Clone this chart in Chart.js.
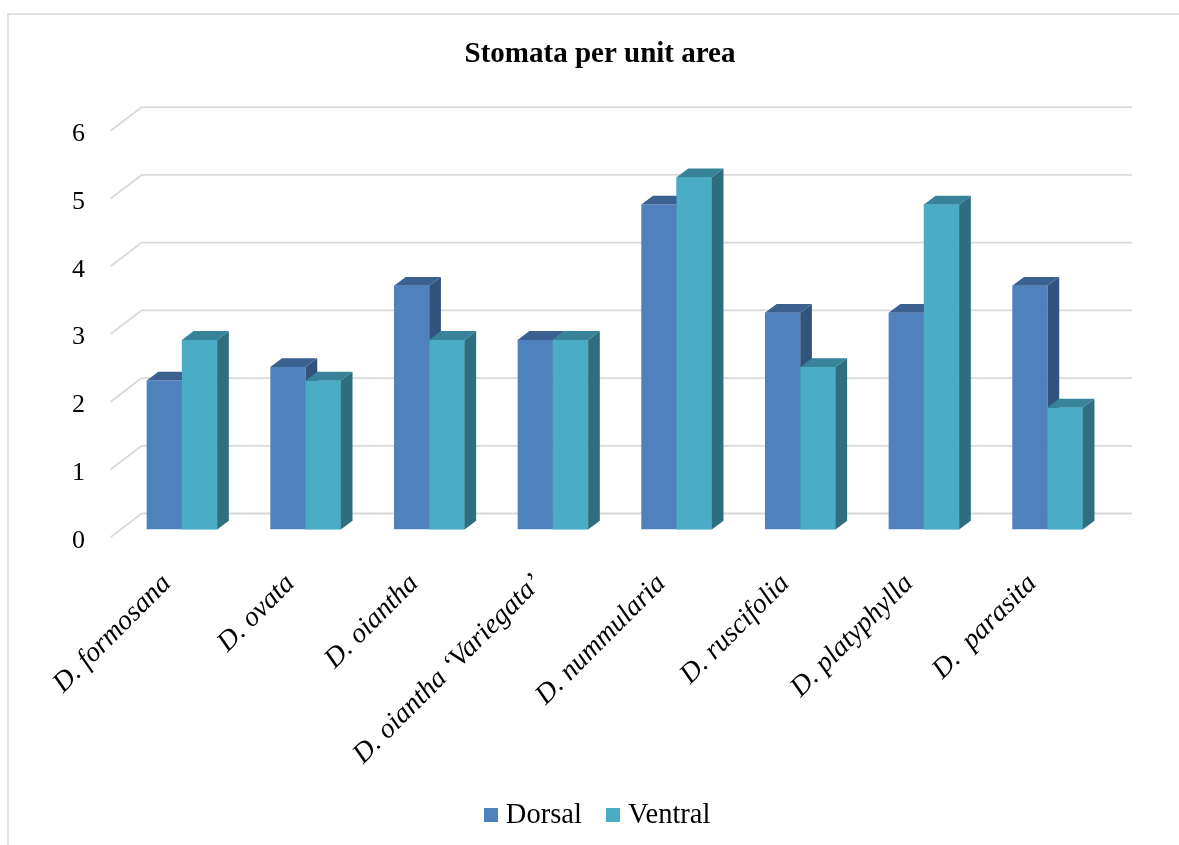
<!DOCTYPE html>
<html>
<head>
<meta charset="utf-8">
<title>Stomata per unit area</title>
<script src="https://cdn.jsdelivr.net/npm/chart.js@4.4.1/dist/chart.umd.min.js"></script>
<style>
  html, body { margin: 0; padding: 0; background: #fff; overflow: hidden; }
  canvas { display: block; }
</style>
</head>
<body>
<canvas id="chart" width="1179" height="845"></canvas>
<script>
// Species on the category axis
const categories = [
  'D. formosana',
  'D. ovata',
  'D. oiantha',
  'D. oiantha \u2018Variegata\u2019',
  'D. nummularia',
  'D. ruscifolia',
  'D. platyphylla',
  'D.  parasita'
];

// Stomata counts per unit area, leaf upper and lower surface
const dorsal  = [2.2, 2.4, 3.6, 2.8, 4.8, 3.2, 3.2, 3.6];
const ventral = [2.8, 2.2, 2.8, 2.8, 5.2, 2.4, 4.8, 1.8];

// Value axis ticks
const yTicks = [0, 1, 2, 3, 4, 5, 6];

const seriesNames = ['Dorsal', 'Ventral'];

const SERIF = "'Liberation Serif', 'Times New Roman', serif";

// Pseudo-3D offsets (pixels): bar depth, back wall and front floor edge
const DEPTH = { dx: 11.7, dy: 8.8 };
const WALL = { dx: 21.5, dy: 16, extra: 22.7 };
const FLOOR = { dx: 9.4, dy: 7.6 };

const palette = {
  Dorsal:  { front: '#4F81BD', top: '#3B6190', side: '#32537D' },
  Ventral: { front: '#4BACC6', top: '#37849A', side: '#2F6E7E' }
};

// Square legend swatch
function swatch(color) {
  const c = document.createElement('canvas');
  c.width = 14;
  c.height = 14;
  const g = c.getContext('2d');
  g.fillStyle = color;
  g.fillRect(0, 0, 14, 14);
  return c;
}

function drawDepth(ctx, bar, col) {
  const { x, y, base, width } = bar.getProps(['x', 'y', 'base', 'width'], true);
  const l = x - width / 2, r = x + width / 2;
  const { dx, dy } = DEPTH;
  ctx.save();
  ctx.fillStyle = col.side;
  ctx.beginPath();
  ctx.moveTo(r, y);
  ctx.lineTo(r + dx, y - dy);
  ctx.lineTo(r + dx, base - dy);
  ctx.lineTo(r, base);
  ctx.closePath();
  ctx.fill();
  ctx.fillStyle = col.top;
  ctx.beginPath();
  ctx.moveTo(l, y);
  ctx.lineTo(l + dx, y - dy);
  ctx.lineTo(r + dx, y - dy);
  ctx.lineTo(r, y);
  ctx.closePath();
  ctx.fill();
  ctx.restore();
}

const depthPlugin = {
  id: 'depth',
  beforeDraw(chart) {
    const ctx = chart.ctx;
    ctx.save();
    ctx.fillStyle = '#fff';
    ctx.fillRect(0, 0, chart.width, chart.height);
    // chart frame (top and left edges)
    ctx.strokeStyle = '#D9D9D9';
    ctx.lineWidth = 1.5;
    ctx.beginPath();
    ctx.moveTo(8, chart.height);
    ctx.lineTo(8, 14);
    ctx.lineTo(chart.width, 14);
    ctx.stroke();
    ctx.restore();
  },
  beforeDatasetsDraw(chart) {
    const { ctx, chartArea: a, scales: { y } } = chart;
    ctx.save();
    ctx.strokeStyle = '#D9D9D9';
    ctx.lineWidth = 1.8;
    yTicks.forEach(v => {
      const py = y.getPixelForValue(v);
      const by = py - WALL.dy;
      ctx.beginPath();
      ctx.moveTo(a.left - FLOOR.dx, py + FLOOR.dy);
      ctx.lineTo(a.left + WALL.dx, by);
      ctx.lineTo(a.right + WALL.extra, by);
      ctx.stroke();
    });
    ctx.restore();
  },
  afterDatasetsDraw(chart) {
    const ctx = chart.ctx;
    const metas = chart.data.datasets.map((d, i) => chart.getDatasetMeta(i));
    categories.forEach((c, i) => {
      metas.forEach((meta, k) => {
        const bar = meta.data[i];
        if (k > 0) bar.draw(ctx); // front face covers the neighbour's side
        drawDepth(ctx, bar, palette[seriesNames[k]]);
      });
    });
  }
};

new Chart(document.getElementById('chart'), {
  type: 'bar',
  data: {
    labels: categories,
    datasets: [
      {
        label: seriesNames[0],
        data: dorsal,
        backgroundColor: palette.Dorsal.front,
        pointStyle: swatch(palette.Dorsal.front),
        borderWidth: 0,
        categoryPercentage: 0.57,
        barPercentage: 1
      },
      {
        label: seriesNames[1],
        data: ventral,
        backgroundColor: palette.Ventral.front,
        pointStyle: swatch(palette.Ventral.front),
        borderWidth: 0,
        categoryPercentage: 0.57,
        barPercentage: 1
      }
    ]
  },
  options: {
    responsive: false,
    animation: false,
    devicePixelRatio: 1,
    events: [],
    layout: { padding: { left: 21, right: 0, top: 0, bottom: 5.5 } },
    scales: {
      x: {
        grid: { display: false, drawTicks: false },
        border: { display: false },
        ticks: {
          font: { family: SERIF, size: 28, style: 'italic' },
          color: '#000',
          minRotation: 45,
          maxRotation: 45,
          autoSkip: false,
          padding: 38,
          labelOffset: -15
        },
        afterFit(s) { s.height = 241.5; }
      },
      y: {
        min: 0,
        max: 6,
        grid: { display: false, drawTicks: false },
        border: { display: false },
        ticks: {
          font: { family: SERIF, size: 26 },
          color: '#000',
          padding: 35,
          labelOffset: 11.3
        },
        afterBuildTicks(s) { s.ticks = yTicks.map(v => ({ value: v })); },
        afterFit(s) { s.width = 99.07; }
      },
      yRight: {
        position: 'right',
        display: true,
        grid: { display: false, drawTicks: false },
        border: { display: false },
        ticks: { display: false },
        afterFit(s) { s.width = 69.65; }
      }
    },
    plugins: {
      tooltip: { enabled: false },
      title: {
        display: true,
        text: 'Stomata per unit area',
        color: '#000',
        font: { family: SERIF, size: 29, weight: 'bold' },
        padding: { top: 37.6, bottom: 50.8 }
      },
      legend: {
        position: 'bottom',
        labels: {
          usePointStyle: true,
          pointStyleWidth: 2,
          boxHeight: 14,
          padding: 30,
          color: '#000',
          font: { family: SERIF, size: 28.5 }
        }
      }
    }
  },
  plugins: [depthPlugin]
});
</script>
</body>
</html>
